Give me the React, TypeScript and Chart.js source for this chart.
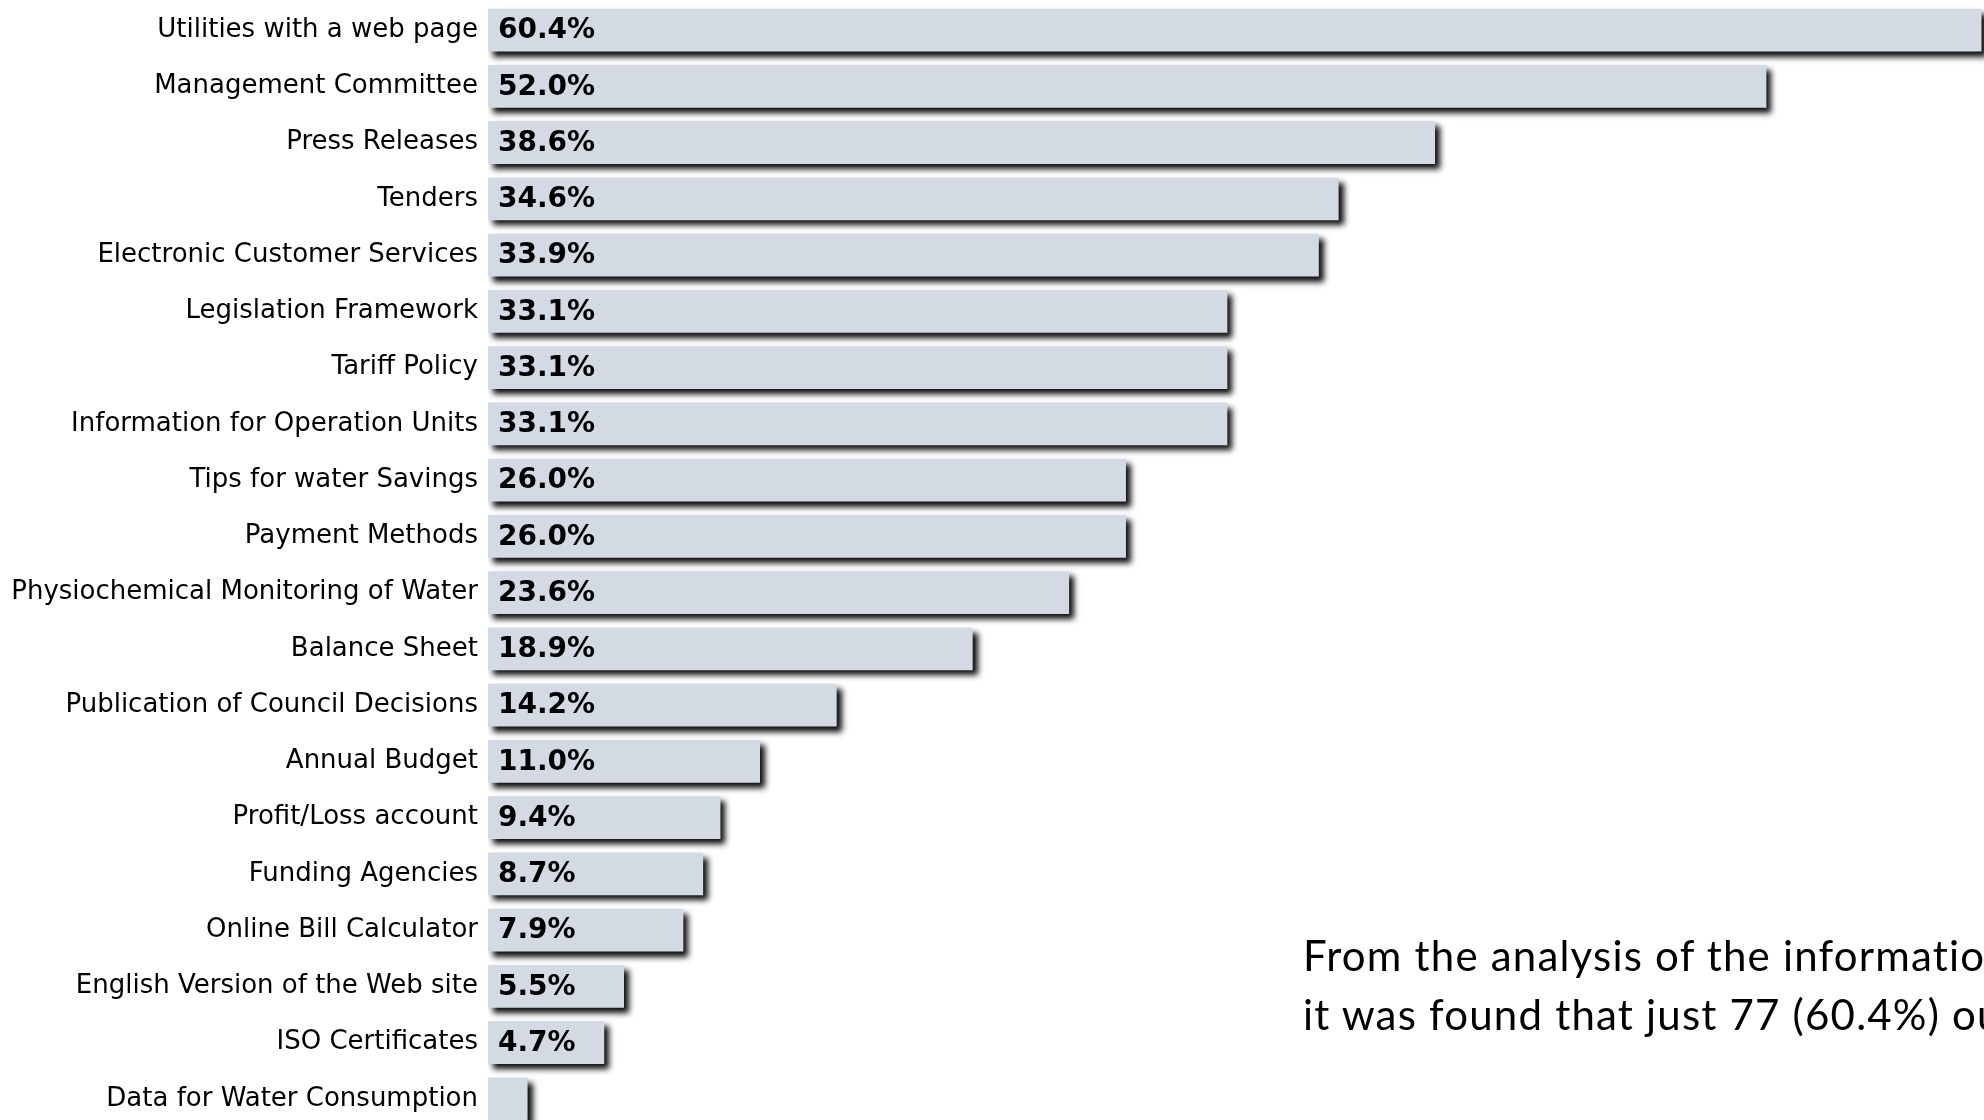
import React, { useEffect, useRef } from "react";
import { Chart, registerables } from "chart.js";

Chart.register(...registerables);

const categories = [
  "Utilities with a web page",
  "Management Committee",
  "Press Releases",
  "Tenders",
  "Electronic Customer Services",
  "Legislation Framework",
  "Tariff Policy",
  "Information for Operation Units",
  "Tips for water Savings",
  "Payment Methods",
  "Physiochemical Monitoring of Water",
  "Balance Sheet",
  "Publication of Council Decisions",
  "Annual Budget",
  "Profit/Loss account",
  "Funding Agencies",
  "Online Bill Calculator",
  "English Version of the Web site",
  "ISO Certificates",
  "Data for Water Consumption",
];

// bar lengths as drawn in the picture (percent)
const barValues = [
  60.4, 51.7, 38.3, 34.4, 33.6, 29.9, 29.9, 29.9, 25.8, 25.8, 23.5, 19.6, 14.1,
  11.0, 9.4, 8.7, 7.9, 5.5, 4.7, 1.6,
];

// value labels as printed inside the bars
const valueLabels = [
  "60.4%", "52.0%", "38.6%", "34.6%", "33.9%", "33.1%", "33.1%", "33.1%",
  "26.0%", "26.0%", "23.6%", "18.9%", "14.2%", "11.0%", "9.4%", "8.7%",
  "7.9%", "5.5%", "4.7%", "",
];

const noteLines = [
  "From the analysis of the information provided by the web pages",
  "it was found that just 77 (60.4%) out of the 127 utilities",
];

const shadowAndLabels = {
  id: "shadowAndLabels",
  beforeDatasetsDraw(chart: any) {
    const ctx = chart.ctx;
    ctx.save();
    ctx.shadowColor = "rgba(0,0,0,0.95)";
    ctx.shadowOffsetX = 5;
    ctx.shadowOffsetY = 5;
    ctx.shadowBlur = 6;
  },
  afterDatasetsDraw(chart: any) {
    const ctx = chart.ctx;
    ctx.restore();
    const meta = chart.getDatasetMeta(0);
    ctx.save();
    ctx.font = "bold 28px 'DejaVu Sans'";
    ctx.fillStyle = "#000000";
    ctx.textAlign = "left";
    ctx.textBaseline = "middle";
    meta.data.forEach((bar: any, i: number) => {
      const t = valueLabels[i];
      if (!t) return;
      ctx.fillText(t, bar.base + 10, bar.y + 1);
    });
    ctx.restore();
  },
};

export default function App() {
  const ref = useRef<HTMLCanvasElement | null>(null);

  useEffect(() => {
    if (!ref.current) return;
    const chart = new Chart(ref.current, {
      type: "bar",
      data: {
        labels: categories,
        datasets: [
          {
            data: barValues,
            backgroundColor: "#d3dae4",
            borderWidth: 0,
            barPercentage: 0.76,
            categoryPercentage: 1,
          },
        ],
      },
      options: {
        indexAxis: "y",
        animation: false,
        responsive: true,
        maintainAspectRatio: false,
        layout: { padding: 0 },
        plugins: {
          legend: { display: false },
          tooltip: { enabled: false },
        },
        scales: {
          x: {
            display: false,
            min: 0,
            max: 60.5,
          },
          y: {
            grid: { display: false, drawTicks: false },
            border: { display: false },
            ticks: {
              color: "#000000",
              padding: 10,
              font: { family: "'DejaVu Sans'", size: 26 },
            },
            afterFit(scale: any) {
              scale.width = 488;
              scale.paddingTop = 0;
              scale.paddingBottom = 0;
            },
          },
        },
      },
      plugins: [shadowAndLabels],
    });
    return () => chart.destroy();
  }, []);

  return (
    <div
      style={{
        position: "fixed",
        left: 0,
        top: 0,
        width: 1984,
        height: 1120,
        overflow: "hidden",
        background: "#ffffff",
      }}
    >
      <div style={{ position: "absolute", left: 0, top: 2, width: 1984, height: 1125 }}>
        <canvas ref={ref} style={{ display: "block" }} />
      </div>
      <div
        style={{
          position: "absolute",
          left: 1303,
          top: 926,
          fontFamily: "Lato, sans-serif",
          fontSize: 42,
          letterSpacing: "1.2px",
          lineHeight: "59px",
          color: "#000000",
          whiteSpace: "nowrap",
        }}
      >
        {noteLines.map((l, i) => (
          <div key={i}>{l}</div>
        ))}
      </div>
    </div>
  );
}
